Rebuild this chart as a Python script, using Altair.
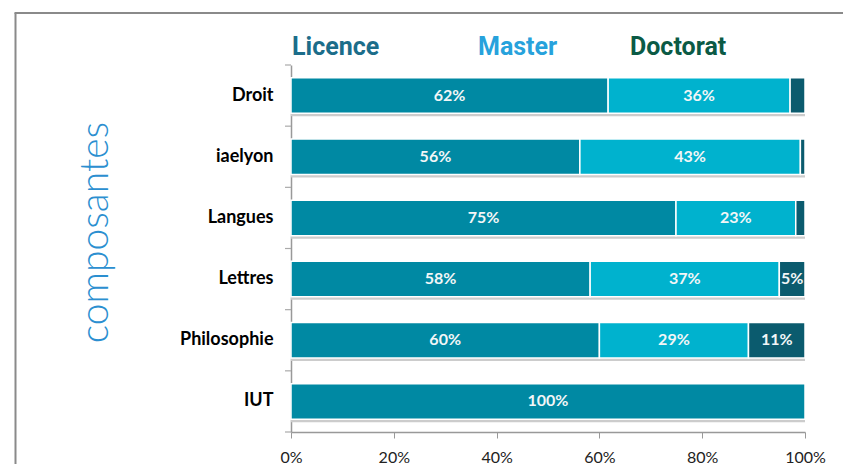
import altair as alt
import pandas as pd

categories = ["Droit", "iaelyon", "Langues", "Lettres", "Philosophie", "IUT"]
levels = ["Licence", "Master", "Doctorat"]
licence = [61.7, 56.2, 74.9, 58.2, 60.0, 100.0]
master = [35.4, 42.9, 23.3, 36.8, 29.0, 0.0]
doctorat = [2.9, 0.9, 1.8, 5.0, 11.0, 0.0]
licence_labels = ["62%", "56%", "75%", "58%", "60%", "100%"]
master_labels = ["36%", "43%", "23%", "37%", "29%", ""]
doctorat_labels = ["", "", "", "5%", "11%", ""]
x_ticks = [0, 20, 40, 60, 80, 100]

bar_colors = ["#0089a3", "#00b2ce", "#0b5b6e"]
legend_colors = ["#1b6d8a", "#27a2dc", "#0b5a45"]

rows = []
totals = []
for i, c in enumerate(categories):
    start = 0.0
    for lvl, vals, labs in zip(levels, [licence, master, doctorat],
                               [licence_labels, master_labels, doctorat_labels]):
        v = vals[i]
        if v > 0:
            rows.append(dict(cat=c, level=lvl, start=start, end=start + v,
                             mid=start + v / 2, label=labs[i]))
        start += v
    totals.append(dict(cat=c, start=0.0, end=start))
df = pd.DataFrame(rows)
df_tot = pd.DataFrame(totals)

yscale = alt.Scale(paddingInner=0.42, paddingOuter=0.21)
xscale = alt.Scale(domain=[0, 100], nice=False)

y_axis = alt.Axis(
    title="composantes", titleFont="Lato", titleFontWeight=300,
    titleFontSize=39, titleColor="#2b8fd0", titleX=-196, titleY=167,
    titleAngle=-90, titleAlign="center", titleBaseline="middle",
    labelFont="Lato", labelFontWeight="bold", labelFontSize=18,
    labelColor="black", ticks=False, labelPadding=18,
    domainColor="#999999", domainWidth=1.5,
)
y_enc = alt.Y("cat:N", sort=categories, scale=yscale, axis=y_axis)

x_axis = alt.Axis(
    values=x_ticks, labelExpr="datum.value + '%'", title=None, grid=False,
    labelFlush=False,
    domainColor="#999999", domainWidth=1.5, tickColor="#999999", tickSize=6,
    labelFont="Lato", labelFontSize=16, labelColor="#222222", labelPadding=11,
)

shadow = alt.Chart(df_tot).mark_bar(color="#cccccc", yOffset=3).encode(
    x=alt.X("start:Q", scale=xscale, axis=x_axis),
    x2="end:Q",
    y=y_enc,
)

bars = alt.Chart(df).mark_bar(stroke="white", strokeWidth=1.5).encode(
    x=alt.X("start:Q", scale=xscale, axis=x_axis),
    x2="end:Q",
    y=y_enc,
    color=alt.Color("level:N", scale=alt.Scale(domain=levels, range=bar_colors), legend=None),
)

labels = alt.Chart(df).mark_text(
    color="#f2f6f7", fontWeight="bold", fontSize=16, font="Lato"
).encode(
    x=alt.X("mid:Q", scale=xscale, axis=x_axis),
    y=y_enc,
    text="label:N",
)

main = alt.layer(shadow, bars, labels)

ticks_df = pd.DataFrame({"k": list(range(len(categories) + 1))})
yticks = alt.Chart(ticks_df).mark_rule(color="#aaaaaa", strokeWidth=1.2).encode(
    y=alt.Y("k:Q", scale=alt.Scale(domain=[0, len(categories)], nice=False, zero=False), axis=None),
    x=alt.value(-6),
    x2=alt.value(0),
)

legend_x = [1, 187, 339]
legend_layers = []
for name, col, px in zip(levels, legend_colors, legend_x):
    legend_layers.append(
        alt.Chart(pd.DataFrame({"t": [name]})).mark_text(
            font="Roboto", fontWeight="bold", fontSize=25, color=col,
            align="left", baseline="middle",
        ).encode(x=alt.value(px), y=alt.value(-18), text="t:N")
    )

frame_df = pd.DataFrame({"a": [0]})
frame_left = alt.Chart(frame_df).mark_rule(color="#8a8a8a", strokeWidth=2).encode(
    x=alt.value(-275.5), y=alt.value(-52), y2=alt.value(410)
)
frame_top = alt.Chart(frame_df).mark_rule(color="#8a8a8a", strokeWidth=2).encode(
    x=alt.value(-276.5), x2=alt.value(570), y=alt.value(-52)
)

chart = alt.layer(
    frame_left, frame_top, main, yticks, *legend_layers
).resolve_scale(y="independent").properties(
    width=514, height=367,
    autosize=alt.AutoSizeParams(type="none"),
    padding={"left": 283, "top": 57, "right": 38, "bottom": 32},
).configure_view(stroke=None)

chart.save("out.html", embed_options={"renderer": "svg", "actions": False})
